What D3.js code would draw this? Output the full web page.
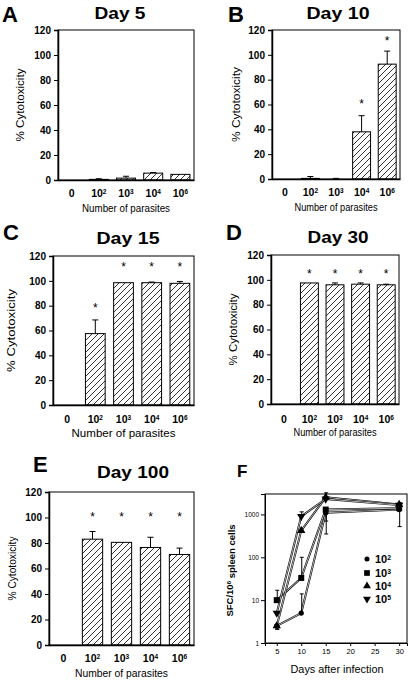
<!DOCTYPE html>
<html><head><meta charset="utf-8">
<script src="https://cdn.jsdelivr.net/npm/d3@7"></script>
<style>
body{margin:0;background:#fff}
svg{display:block}
text{font-family:"Liberation Sans",Arial,sans-serif;fill:#000}
</style>
</head><body>
<svg id="chart" width="415" height="681"></svg>
<script>
// ---------- data ----------
const categories = ["0", "10^2", "10^3", "10^4", "10^6"];
const yTicks = [0, 20, 40, 60, 80, 100, 120];
const panelTitles = ["Day 5", "Day 10", "Day 15", "Day 30", "Day 100"];
const panelLetters = ["A", "B", "C", "D", "E", "F"];

const day5Values   = [0, 0.5, 1.5, 5.5, 4.5];
const day5Errors   = [0, 0.5, 1.5, 0.5, 0];
const day5Stars    = [null, null, null, null, null];

const day10Values  = [0, 0.5, 0, 38, 92.5];
const day10Errors  = [0, 1.5, 0.5, 13, 10.5];
const day10Stars   = [null, null, null, 62, 113];

const day15Values  = [0, 57.5, 98.5, 98.5, 98];
const day15Errors  = [0, 11, 0, 0.5, 1.5];
const day15Stars   = [null, 80, 113, 113, 113];

const day30Values  = [0, 97.5, 96, 96.5, 96];
const day30Errors  = [0, 0, 1.5, 1, 0.5];
const day30Stars   = [null, 106, 106, 106, 106];

const day100Values = [0, 83, 80.5, 76.5, 71];
const day100Errors = [0, 6, 0, 8, 5];
const day100Stars  = [null, 102, 102, 102, 102];

// panel F (log scale, SFC per 10^6 spleen cells)
const fDays      = [5, 10, 15, 30];
const fSeries    = ["10^2", "10^3", "10^4", "10^5"];
const fCircle    = [2.5, 5, 1100, 1300];
const fSquare    = [10, 33, 1300, 1400];
const fTriUp     = [2.5, 420, 2500, 1700];
const fTriDown   = [5, 900, 2300, 1650];
const fCircleHi  = [null, 14, null, null];
const fCircleLo  = [2.1, null, 350, null];
const fSquareHi  = [17, 100, null, 1750];
const fSquareLo  = [null, null, 700, 520];
const fTriUpHi   = [null, null, 3200, null];
const fTriUpLo   = [2.1, null, null, null];
const fTriDownHi = [null, 1150, null, 1900];
const fTriDownLo = [null, null, null, null];
const fXTicks    = [5, 10, 15, 20, 25, 30];
const fYTicks    = [1, 10, 100, 1000];

// ---------- drawing ----------
const svg = d3.select("#chart");
const defs = svg.append("defs");
defs.append("pattern")
  .attr("id", "hatch").attr("patternUnits", "userSpaceOnUse")
  .attr("width", 6).attr("height", 6)
  .append("path")
  .attr("d", "M-1,1 l2,-2 M0,6 l6,-6 M5,7 l2,-2")
  .attr("stroke", "#000").attr("stroke-width", 0.8);

function supLabel(sel, label, expSize) {
  const parts = label.split("^");
  sel.text(null);
  sel.append("tspan").text(parts[0]);
  if (parts[1]) {
    sel.append("tspan").attr("dy", "-0.45em").attr("font-size", expSize || "0.62em").text(parts[1]);
  }
}

const barPanels = [
  {values: day5Values, errors: day5Errors, stars: day5Stars, title: panelTitles[0], letter: panelLetters[0],
   L: 58, R: 194, T: 30, B: 180, titleX: 120, titleY: 19, titleLen: 51, letterX: 2, letterY: 22,
   ylabX: 20, ylabLen: 73, xtY: 197, xtitleY: 212, xtitleLen: 88},
  {values: day10Values, errors: day10Errors, stars: day10Stars, title: panelTitles[1], letter: panelLetters[1],
   L: 272, R: 400, T: 30, B: 179, titleX: 338, titleY: 19, titleLen: 63, letterX: 228, letterY: 22,
   ylabX: 236, ylabLen: 75, xtY: 196, xtitleY: 211, xtitleLen: 83},
  {values: day15Values, errors: day15Errors, stars: day15Stars, title: panelTitles[2], letter: panelLetters[2],
   L: 53, R: 194, T: 256, B: 405, titleX: 128, titleY: 244, titleLen: 63, letterX: 3, letterY: 240,
   ylabX: 11, ylabLen: 83, xtY: 423, xtitleY: 437, xtitleLen: 104},
  {values: day30Values, errors: day30Errors, stars: day30Stars, title: panelTitles[3], letter: panelLetters[3],
   L: 271, R: 399, T: 255, B: 404, titleX: 338, titleY: 243, titleLen: 61, letterX: 226, letterY: 240,
   ylabX: 233, ylabLen: 72, xtY: 423, xtitleY: 436, xtitleLen: 83},
  {values: day100Values, errors: day100Errors, stars: day100Stars, title: panelTitles[4], letter: panelLetters[4],
   L: 49, R: 194, T: 492, B: 645, titleX: 133, titleY: 478, titleLen: 72, letterX: 33, letterY: 472,
   ylabX: 12, ylabLen: 64, xtY: 662, xtitleY: 677, xtitleLen: 93}
];

barPanels.forEach(p => {
  const g = svg.append("g");
  const x = d3.scaleBand().domain(categories).range([p.L, p.R]).paddingInner(0.3).paddingOuter(0.15);
  const y = d3.scaleLinear().domain([0, 120]).range([p.B, p.T]);

  g.append("rect").attr("x", p.L).attr("y", p.T).attr("width", p.R - p.L).attr("height", p.B - p.T)
    .attr("fill", "none").attr("stroke", "#000").attr("stroke-width", 1);

  const ya = g.append("g").attr("transform", `translate(${p.L},0)`)
    .call(d3.axisLeft(y).tickValues(yTicks).tickSize(4).tickPadding(3));
  ya.select(".domain").attr("stroke-width", 1.5);
  ya.selectAll("text").attr("font-size", 10).attr("font-weight", "bold").attr("font-family", "Liberation Sans, Arial, sans-serif");

  const xa = g.append("g").attr("transform", `translate(0,${p.B})`)
    .call(d3.axisBottom(x).tickSize(0).tickPadding(0));
  xa.select(".domain").attr("stroke-width", 1.5);
  xa.selectAll("text")
    .attr("y", p.xtY - p.B).attr("dy", null)
    .attr("font-size", 10.5).attr("font-weight", "bold").attr("font-family", "Liberation Sans, Arial, sans-serif")
    .each(function(d) { supLabel(d3.select(this), d); });

  const rows = categories.map((c, i) => ({c, v: p.values[i], e: p.errors[i], s: p.stars[i]}));
  g.selectAll(".bar").data(rows.filter(r => r.v > 0)).join("rect")
    .attr("x", r => x(r.c)).attr("width", x.bandwidth())
    .attr("y", r => y(r.v)).attr("height", r => y(0) - y(r.v))
    .attr("fill", "url(#hatch)").attr("stroke", "#000").attr("stroke-width", 1);

  const eb = rows.filter(r => r.e > 0);
  g.selectAll(".err").data(eb).join("line")
    .attr("x1", r => x(r.c) + x.bandwidth() / 2).attr("x2", r => x(r.c) + x.bandwidth() / 2)
    .attr("y1", r => y(r.v)).attr("y2", r => y(r.v + r.e))
    .attr("stroke", "#000").attr("stroke-width", 1);
  g.selectAll(".cap").data(eb).join("line")
    .attr("x1", r => x(r.c) + x.bandwidth() / 2 - 3).attr("x2", r => x(r.c) + x.bandwidth() / 2 + 3)
    .attr("y1", r => y(r.v + r.e)).attr("y2", r => y(r.v + r.e))
    .attr("stroke", "#000").attr("stroke-width", 1);

  g.selectAll(".star").data(rows.filter(r => r.s != null)).join("text")
    .attr("x", r => x(r.c) + x.bandwidth() / 2).attr("y", r => y(r.s) + 6)
    .attr("text-anchor", "middle").attr("font-size", 12).text("*");

  g.append("text").attr("x", p.titleX).attr("y", p.titleY).attr("text-anchor", "middle")
    .attr("font-size", 17).attr("font-weight", "bold")
    .attr("textLength", p.titleLen).attr("lengthAdjust", "spacingAndGlyphs").text(p.title);
  g.append("text").attr("x", p.letterX).attr("y", p.letterY)
    .attr("font-size", 22).attr("font-weight", "bold").text(p.letter);
  g.append("text").attr("transform", `translate(${p.ylabX},${(p.T + p.B) / 2}) rotate(-90)`)
    .attr("text-anchor", "middle").attr("dy", "0.35em").attr("font-size", 10)
    .attr("textLength", p.ylabLen).attr("lengthAdjust", "spacingAndGlyphs").text("% Cytotoxicity");
  g.append("text").attr("x", (p.L + p.R) / 2).attr("y", p.xtitleY).attr("text-anchor", "middle")
    .attr("font-size", 10)
    .attr("textLength", p.xtitleLen).attr("lengthAdjust", "spacingAndGlyphs").text("Number of parasites");
});

// ---------- panel F ----------
(function() {
  const L = 265, R = 407, T = 494, B = 643;
  const g = svg.append("g");
  const x = d3.scaleLinear().domain([2.6, 31.6]).range([L, R]);
  const y = d3.scaleLog().domain([1, 3000]).range([B, T]);

  g.append("rect").attr("x", L).attr("y", T).attr("width", R - L).attr("height", B - T)
    .attr("fill", "none").attr("stroke", "#000").attr("stroke-width", 1);

  const ya = g.append("g").attr("transform", `translate(${L},0)`)
    .call(d3.axisLeft(y).tickValues(fYTicks).tickFormat(d3.format("d")).tickSize(4).tickPadding(2));
  ya.selectAll("text").attr("font-size", 6.5).attr("font-family", "Liberation Sans, Arial, sans-serif");
  const xa = g.append("g").attr("transform", `translate(0,${B})`)
    .call(d3.axisBottom(x).tickValues(fXTicks).tickSize(3).tickPadding(3));
  xa.selectAll("text").attr("font-size", 7.5).attr("font-family", "Liberation Sans, Arial, sans-serif");

  const series = [
    {name: fSeries[0], vals: fCircle,   hi: fCircleHi,  lo: fCircleLo,  sym: d3.symbolCircle,   size: 22},
    {name: fSeries[1], vals: fSquare,   hi: fSquareHi,  lo: fSquareLo,  sym: d3.symbolSquare,   size: 36},
    {name: fSeries[2], vals: fTriUp,    hi: fTriUpHi,   lo: fTriUpLo,   sym: d3.symbolTriangle, size: 30},
    {name: fSeries[3], vals: fTriDown,  hi: fTriDownHi, lo: fTriDownLo, sym: d3.symbolTriangle, size: 30, flip: true}
  ];
  const line = d3.line().x((d, i) => x(fDays[i])).y(d => y(d));

  series.forEach(s => {
    g.append("path").attr("d", line(s.vals)).attr("fill", "none").attr("stroke", "#000").attr("stroke-width", 2.0);
    g.append("path").attr("d", line(s.vals)).attr("fill", "none").attr("stroke", "#fff").attr("stroke-width", 0.7);
  });
  series.forEach(s => {
    const errs = [];
    s.vals.forEach((v, i) => {
      if (s.hi[i] != null) errs.push({x: fDays[i], a: v, b: s.hi[i]});
      if (s.lo[i] != null) errs.push({x: fDays[i], a: v, b: s.lo[i]});
    });
    errs.forEach(e => {
      g.append("line").attr("x1", x(e.x) + 0.5).attr("x2", x(e.x) + 0.5).attr("y1", y(e.a)).attr("y2", y(e.b))
        .attr("stroke", "#000").attr("stroke-width", 1);
      g.append("line").attr("x1", x(e.x) - 1.5).attr("x2", x(e.x) + 2.5).attr("y1", y(e.b)).attr("y2", y(e.b))
        .attr("stroke", "#000").attr("stroke-width", 1);
    });
    g.selectAll(null).data(s.vals).join("path")
      .attr("d", d3.symbol().type(s.sym).size(s.size))
      .attr("transform", (d, i) => `translate(${x(fDays[i])},${y(d)})${s.flip ? " rotate(180)" : ""}`)
      .attr("fill", "#000");
  });

  const legY = [559, 573, 586, 599];
  series.forEach((s, i) => {
    g.append("path").attr("d", d3.symbol().type(s.sym).size(s.size * 0.9)())
      .attr("transform", `translate(367,${legY[i]})${s.flip ? " rotate(180)" : ""}`).attr("fill", "#000");
    const t = g.append("text").attr("x", 375).attr("y", legY[i] + 4).attr("font-size", 11).attr("font-weight", "bold");
    supLabel(t, s.name);
  });

  g.append("text").attr("x", 237).attr("y", 477).attr("font-size", 17).attr("font-weight", "bold").text(panelLetters[5]);
  const yl = g.append("text").attr("transform", `translate(230,${(T + B) / 2 + 2}) rotate(-90)`)
    .attr("text-anchor", "middle").attr("dy", "0.35em").attr("font-size", 9.5).attr("font-weight", "bold");
  yl.append("tspan").text("SFC/10");
  yl.append("tspan").attr("dy", "-0.4em").attr("font-size", "0.65em").text("6");
  yl.append("tspan").attr("dy", "0.4em").text(" spleen cells");
  g.append("text").attr("x", 337).attr("y", 673).attr("text-anchor", "middle").attr("font-size", 11)
    .attr("textLength", 93).attr("lengthAdjust", "spacingAndGlyphs").text("Days after infection");
})();
</script>
</body></html>
